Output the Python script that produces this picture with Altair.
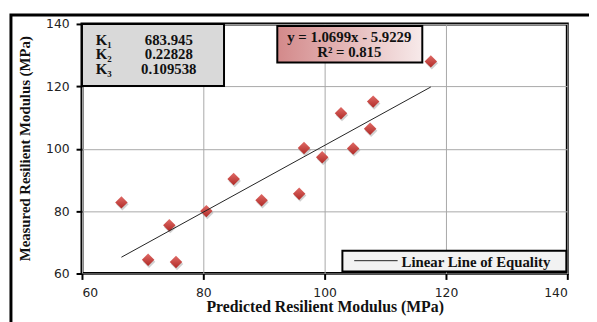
import altair as alt
import pandas as pd

# ---- data ----
predicted = [66.5, 70.9, 74.4, 75.5, 80.5, 85.0, 89.6, 95.8, 96.6, 99.6, 102.7, 104.7, 107.5, 108.0, 117.5]
measured = [82.8, 64.4, 75.5, 63.7, 80.0, 90.3, 83.5, 85.6, 100.2, 97.3, 111.4, 100.1, 106.4, 115.1, 128.0]

trend_x = [66.5, 117.5]
slope, intercept = 1.0699, -5.9229
trend_y = [slope * v + intercept for v in trend_x]

ticks = [60, 80, 100, 120, 140]
k_names = ["K\u2081", "K\u2082", "K\u2083"]
k_values = ["683.945", "0.22828", "0.109538"]
eq_lines = ["y = 1.0699x - 5.9229", "R\u00b2 = 0.815"]
legend_label = "Linear Line of Equality"
x_title = "Predicted Resilient Modulus (MPa)"
y_title = "Measured Resilient Modulus (MPa)"

pts = pd.DataFrame({"Predicted": predicted, "Measured": measured})
trend = pd.DataFrame({"Predicted": trend_x, "Measured": trend_y})
one = pd.DataFrame({"a": [0]})

SERIF = "Liberation Serif"

xenc = alt.X("Predicted:Q", scale=alt.Scale(domain=[60, 140], nice=False),
             axis=alt.Axis(values=ticks, title=x_title, titleY=34, titleBaseline="middle"))
yenc = alt.Y("Measured:Q", scale=alt.Scale(domain=[60, 140], nice=False),
             axis=alt.Axis(values=ticks, title=y_title, titleX=-58, titleY=126,
                           titleBaseline="middle", titleAlign="center", titleFontSize=15))

shadow = alt.Chart(pts).mark_point(shape="diamond", filled=True, size=160, color="#777777",
                                   opacity=0.35, yOffset=2, xOffset=1).encode(x=xenc, y=yenc)
points = alt.Chart(pts).mark_point(
    shape="diamond", filled=True, size=160, opacity=1,
    color=alt.Gradient(gradient="linear", x1=0, x2=0, y1=0, y2=1,
                       stops=[alt.GradientStop(color="#e06b67", offset=0),
                              alt.GradientStop(color="#b02a26", offset=1)])
).encode(x=xenc, y=yenc)

line = alt.Chart(trend).mark_line(color="#222222", strokeWidth=1).encode(x=xenc, y=yenc)

# K box
kbox = alt.Chart(one).mark_rect(fill="#d9d9d9", stroke="black", strokeWidth=2).encode(
    x=alt.value(0), x2=alt.value(144), y=alt.value(0), y2=alt.value(63))
ktexts = []
for i, (n, v) in enumerate(zip(k_names, k_values)):
    yy = 16 + 15 * i
    ktexts.append(alt.Chart(one).mark_text(font=SERIF, fontWeight="bold", fontSize=15, align="left",
                                           baseline="middle", color="#111").encode(
        x=alt.value(14), y=alt.value(yy), text=alt.value(n)))
    ktexts.append(alt.Chart(one).mark_text(font=SERIF, fontWeight="bold", fontSize=15, align="center",
                                           baseline="middle", color="#111").encode(
        x=alt.value(88), y=alt.value(yy), text=alt.value(v)))

# equation box
ebox = alt.Chart(one).mark_rect(
    stroke="black", strokeWidth=2,
    fill=alt.Gradient(gradient="linear", x1=0, x2=1, y1=0, y2=0,
                      stops=[alt.GradientStop(color="#d3898a", offset=0),
                             alt.GradientStop(color="#f7eaea", offset=1)])
).encode(x=alt.value(198), x2=alt.value(345), y=alt.value(2), y2=alt.value(39))
etexts = [
    alt.Chart(one).mark_text(font=SERIF, fontWeight="bold", fontSize=15, align="center",
                             baseline="middle", color="#111").encode(
        x=alt.value(271), y=alt.value(13 + 15.5 * i), text=alt.value(t))
    for i, t in enumerate(eq_lines)
]

# legend box
lbox = alt.Chart(one).mark_rect(fill="#f2f2f2", stroke="black", strokeWidth=2).encode(
    x=alt.value(264), x2=alt.value(491), y=alt.value(230), y2=alt.value(251))
lline = alt.Chart(one).mark_rule(color="#222", strokeWidth=1).encode(
    x=alt.value(276), x2=alt.value(320), y=alt.value(240))
ltext = alt.Chart(one).mark_text(font=SERIF, fontWeight="bold", fontSize=15, align="left",
                                 baseline="middle", color="#111").encode(
    x=alt.value(324), y=alt.value(241), text=alt.value(legend_label))

# outer frame (clipped at right/bottom in the reference)
frame = alt.Chart(one).mark_rect(fill="transparent", stroke="black", strokeWidth=3).encode(
    x=alt.value(-72), x2=alt.value(620), y=alt.value(-9), y2=alt.value(400))

chart = alt.layer(
    shadow, points, line, kbox, *ktexts, ebox, *etexts, lbox, lline, ltext, frame
).properties(
    width=492, height=253,
    background="white",
    autosize=alt.AutoSizeParams(type="none"),
    padding={"left": 75, "top": 14, "right": 22, "bottom": 47},
).configure_view(
    stroke="black", strokeWidth=3
).configure_axis(
    domain=False, grid=True, gridColor="#a8a8a8", gridWidth=1,
    ticks=True, tickColor="black", tickWidth=2, tickSize=6,
    labelFont="DejaVu Sans", labelFontSize=12.5, labelColor="#222", labelPadding=7,
    titleFont=SERIF, titleFontWeight="bold", titleFontSize=16, titleColor="#111",
)

chart.save("out.html", embed_options={"renderer": "svg", "actions": False})
